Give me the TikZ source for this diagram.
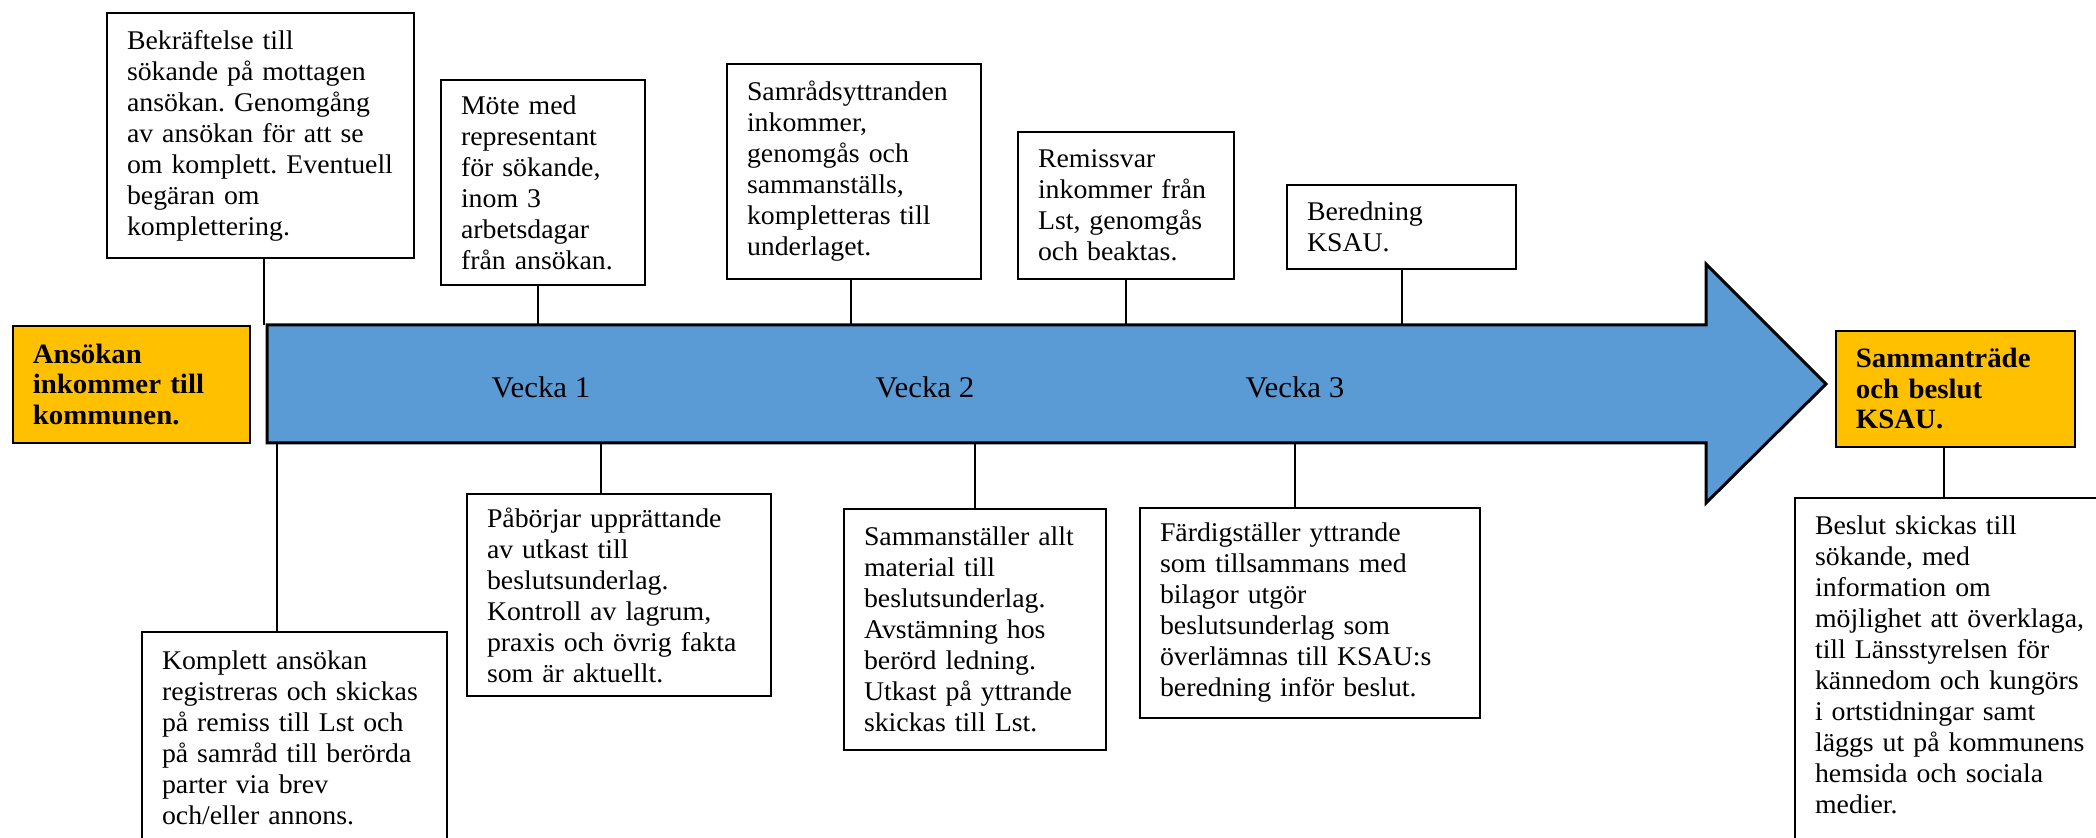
\documentclass[tikz,border=0pt]{standalone}
\usepackage{fontspec}
\setmainfont{Liberation Serif}[FakeStretch=1.03]
\frenchspacing
\usetikzlibrary{positioning,calc}
\definecolor{arrowblue}{HTML}{5B9BD5}
\definecolor{goalorange}{HTML}{FFC000}

\begin{document}
\begin{tikzpicture}[x=0.5pt,y=-0.5pt,
        note/.style={draw,line width=1pt,fill=white,anchor=north west,align=left,
            inner xsep=10pt,font=\fontsize{13.5}{15.5}\selectfont},
        goal/.style={draw,line width=0.9pt,fill=goalorange,anchor=north west,align=left,
            inner xsep=10pt,font=\bfseries\fontsize{14}{15.25}\selectfont},
        week/.style={font=\fontsize{15}{18}\selectfont},
        link/.style={line width=1pt}]
        \clip (0,0) rectangle (2096,838);
        % time arrow
        \draw[line width=1.5pt,fill=arrowblue] (267,325) -- (1706,325) -- (1706,264) -- (1826,384)
            -- (1706,503) -- (1706,443) -- (267,443) -- cycle;
        \coordinate (atop) at (267,325);
        \coordinate (abot) at (267,443);
        \node[week] (v1) at (541,387) {Vecka 1};
        \node[week] (v2) at (925,387) {Vecka 2};
        \node[week] (v3) at (1295,387) {Vecka 3};
        % start and end
        \node[goal,minimum width=118.5pt,minimum height=58.5pt,text width=98.5pt] (ansokan) at (12,325)
            {Ansökan\\inkommer till\\kommunen.};
        \node[goal,minimum width=119.5pt,minimum height=58pt,text width=99.5pt] (sammantrade) at (1835,330)
            {Sammanträde\\och beslut\\KSAU.};
        % above the arrow
        \node[note,minimum width=153.5pt,minimum height=122.5pt,text width=133.5pt] (bekr) at (106,12)
            {Bekräftelse till\\sökande på mottagen\\ansökan. Genomgång\\av ansökan för att se\\om komplett. Eventuell\\begäran om\\komplettering.};
        \node[note,minimum width=102pt,minimum height=102.5pt,text width=82pt] (mote) at (440,79)
            {Möte med\\representant\\för sökande,\\inom 3\\arbetsdagar\\från ansökan.};
        \node[note,minimum width=127pt,minimum height=107.5pt,text width=107pt] (samrad) at (726,63)
            {Samrådsyttranden\\inkommer,\\genomgås och\\sammanställs,\\kompletteras till\\underlaget.};
        \node[note,minimum width=108pt,minimum height=73.5pt,text width=88pt] (remiss) at (1017,131)
            {Remissvar\\inkommer från\\Lst, genomgås\\och beaktas.};
        \node[note,minimum width=114.5pt,minimum height=42pt,text width=94.5pt] (bered) at (1286,184)
            {Beredning\\KSAU.};
        \draw[link] ([xshift=1.75pt]bekr.south) -- ($(bekr.south |- atop)+(3.5,0)$);
        \draw[link] ([xshift=-2.7pt]mote.south) -- ($(mote.south |- atop)+(-5.4,0)$);
        \draw[link] ([xshift=-1.5pt]samrad.south) -- ($(samrad.south |- atop)+(-3,0)$);
        \draw[link] (remiss.south) -- (remiss.south |- atop);
        \draw[link] (bered.south) -- (bered.south |- atop);
        % below the arrow
        \node[note,minimum width=152.5pt,text width=132.5pt,inner ysep=9.5pt,text depth=150pt] (komplett) at (141,631)
            {Komplett ansökan\\registreras och skickas\\på remiss till Lst och\\på samråd till berörda\\parter via brev\\och/eller annons.};
        \node[note,minimum width=152pt,minimum height=101pt,text width=132pt] (paborjar) at (466,493)
            {Påbörjar upprättande\\av utkast till\\beslutsunderlag.\\Kontroll av lagrum,\\praxis och övrig fakta\\som är aktuellt.};
        \node[note,minimum width=131pt,minimum height=120.5pt,text width=111pt] (samst) at (843,508)
            {Sammanställer allt\\material till\\beslutsunderlag.\\Avstämning hos\\berörd ledning.\\Utkast på yttrande\\skickas till Lst.};
        \node[note,minimum width=170pt,minimum height=105pt,text width=150pt] (fardig) at (1139,507)
            {Färdigställer yttrande\\som tillsammans med\\bilagor utgör\\beslutsunderlag som\\överlämnas till KSAU:s\\beredning inför beslut.};
        \node[note,minimum width=170pt,text width=150pt,inner ysep=9pt,text depth=150pt] (beslut) at (1794,497)
            {Beslut skickas till\\sökande, med\\information om\\möjlighet att överklaga,\\till Länsstyrelsen för\\kännedom och kungörs\\i ortstidningar samt\\läggs ut på kommunens\\hemsida och sociala\\medier.};
        \draw[link] ($(komplett.north |- abot)+(-17.5,0)$) -- ([xshift=-8.75pt]komplett.north);
        \draw[link] ($(paborjar.north |- abot)+(-18,0)$) -- ([xshift=-9pt]paborjar.north);
        \draw[link] (samst.north |- abot) -- (samst.north);
        \draw[link] ($(fardig.north |- abot)+(-15,0)$) -- ([xshift=-7.5pt]fardig.north);
        \draw[link] ([xshift=-5.75pt]sammantrade.south) -- ($(sammantrade.south |- beslut.north)+(-11.5,0)$);
\end{tikzpicture}
\end{document}
